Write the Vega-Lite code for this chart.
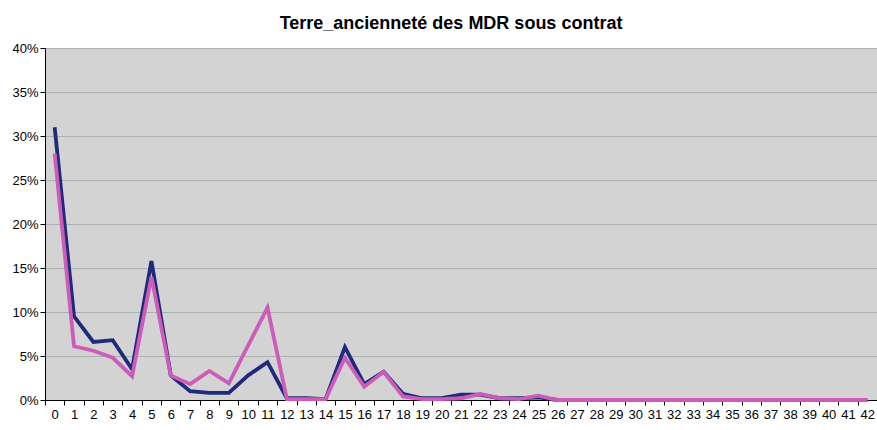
{
  "$schema": "https://vega.github.io/schema/vega-lite/v6.json",
  "width": 832,
  "height": 352,
  "autosize": "none",
  "padding": {"left": 45, "top": 48, "right": 0, "bottom": 30},
  "background": "white",
  "title": {
    "text": "Terre_ancienneté des MDR sous contrat",
    "font": "Liberation Sans",
    "fontSize": 18,
    "fontWeight": "bold",
    "color": "#000000",
    "anchor": "middle",
    "offset": 9,
    "dx": -10
  },
  "config": {
    "view": {"fill": "#d3d3d3", "stroke": null},
    "axis": {"labelFont": "Liberation Sans", "labelFontSize": 13, "labelColor": "#000000"}
  },
  "datasets": {
    "rows": [
      {"annee": 0, "serie": "Série 1", "part": 0.310},
      {"annee": 1, "serie": "Série 1", "part": 0.095},
      {"annee": 2, "serie": "Série 1", "part": 0.066},
      {"annee": 3, "serie": "Série 1", "part": 0.068},
      {"annee": 4, "serie": "Série 1", "part": 0.035},
      {"annee": 5, "serie": "Série 1", "part": 0.158},
      {"annee": 6, "serie": "Série 1", "part": 0.028},
      {"annee": 7, "serie": "Série 1", "part": 0.010},
      {"annee": 8, "serie": "Série 1", "part": 0.008},
      {"annee": 9, "serie": "Série 1", "part": 0.008},
      {"annee": 10, "serie": "Série 1", "part": 0.028},
      {"annee": 11, "serie": "Série 1", "part": 0.043},
      {"annee": 12, "serie": "Série 1", "part": 0.002},
      {"annee": 13, "serie": "Série 1", "part": 0.002},
      {"annee": 14, "serie": "Série 1", "part": 0.001},
      {"annee": 15, "serie": "Série 1", "part": 0.060},
      {"annee": 16, "serie": "Série 1", "part": 0.018},
      {"annee": 17, "serie": "Série 1", "part": 0.032},
      {"annee": 18, "serie": "Série 1", "part": 0.007},
      {"annee": 19, "serie": "Série 1", "part": 0.002},
      {"annee": 20, "serie": "Série 1", "part": 0.002},
      {"annee": 21, "serie": "Série 1", "part": 0.006},
      {"annee": 22, "serie": "Série 1", "part": 0.006},
      {"annee": 23, "serie": "Série 1", "part": 0.002},
      {"annee": 24, "serie": "Série 1", "part": 0.002},
      {"annee": 25, "serie": "Série 1", "part": 0.003},
      {"annee": 26, "serie": "Série 1", "part": 0},
      {"annee": 27, "serie": "Série 1", "part": 0},
      {"annee": 28, "serie": "Série 1", "part": 0},
      {"annee": 29, "serie": "Série 1", "part": 0},
      {"annee": 30, "serie": "Série 1", "part": 0},
      {"annee": 31, "serie": "Série 1", "part": 0},
      {"annee": 32, "serie": "Série 1", "part": 0},
      {"annee": 33, "serie": "Série 1", "part": 0},
      {"annee": 34, "serie": "Série 1", "part": 0},
      {"annee": 35, "serie": "Série 1", "part": 0},
      {"annee": 36, "serie": "Série 1", "part": 0},
      {"annee": 37, "serie": "Série 1", "part": 0},
      {"annee": 38, "serie": "Série 1", "part": 0},
      {"annee": 39, "serie": "Série 1", "part": 0},
      {"annee": 40, "serie": "Série 1", "part": 0},
      {"annee": 41, "serie": "Série 1", "part": 0},
      {"annee": 42, "serie": "Série 1", "part": 0},
      {"annee": 0, "serie": "Série 2", "part": 0.280},
      {"annee": 1, "serie": "Série 2", "part": 0.061},
      {"annee": 2, "serie": "Série 2", "part": 0.056},
      {"annee": 3, "serie": "Série 2", "part": 0.048},
      {"annee": 4, "serie": "Série 2", "part": 0.027},
      {"annee": 5, "serie": "Série 2", "part": 0.140},
      {"annee": 6, "serie": "Série 2", "part": 0.028},
      {"annee": 7, "serie": "Série 2", "part": 0.018},
      {"annee": 8, "serie": "Série 2", "part": 0.033},
      {"annee": 9, "serie": "Série 2", "part": 0.019},
      {"annee": 10, "serie": "Série 2", "part": 0.062},
      {"annee": 11, "serie": "Série 2", "part": 0.105},
      {"annee": 12, "serie": "Série 2", "part": 0.001},
      {"annee": 13, "serie": "Série 2", "part": 0.001},
      {"annee": 14, "serie": "Série 2", "part": 0.001},
      {"annee": 15, "serie": "Série 2", "part": 0.048},
      {"annee": 16, "serie": "Série 2", "part": 0.015},
      {"annee": 17, "serie": "Série 2", "part": 0.032},
      {"annee": 18, "serie": "Série 2", "part": 0.004},
      {"annee": 19, "serie": "Série 2", "part": 0.001},
      {"annee": 20, "serie": "Série 2", "part": 0.001},
      {"annee": 21, "serie": "Série 2", "part": 0.002},
      {"annee": 22, "serie": "Série 2", "part": 0.007},
      {"annee": 23, "serie": "Série 2", "part": 0.002},
      {"annee": 24, "serie": "Série 2", "part": 0.001},
      {"annee": 25, "serie": "Série 2", "part": 0.005},
      {"annee": 26, "serie": "Série 2", "part": 0},
      {"annee": 27, "serie": "Série 2", "part": 0},
      {"annee": 28, "serie": "Série 2", "part": 0},
      {"annee": 29, "serie": "Série 2", "part": 0},
      {"annee": 30, "serie": "Série 2", "part": 0},
      {"annee": 31, "serie": "Série 2", "part": 0},
      {"annee": 32, "serie": "Série 2", "part": 0},
      {"annee": 33, "serie": "Série 2", "part": 0},
      {"annee": 34, "serie": "Série 2", "part": 0},
      {"annee": 35, "serie": "Série 2", "part": 0},
      {"annee": 36, "serie": "Série 2", "part": 0},
      {"annee": 37, "serie": "Série 2", "part": 0},
      {"annee": 38, "serie": "Série 2", "part": 0},
      {"annee": 39, "serie": "Série 2", "part": 0},
      {"annee": 40, "serie": "Série 2", "part": 0},
      {"annee": 41, "serie": "Série 2", "part": 0},
      {"annee": 42, "serie": "Série 2", "part": 0}
    ]
  },
  "data": {"name": "rows"},
  "mark": {"type": "line", "strokeWidth": 3.8, "strokeJoin": "miter"},
  "encoding": {
    "x": {
      "field": "annee",
      "type": "ordinal",
      "sort": "ascending",
      "scale": {"paddingInner": 0, "paddingOuter": 0},
      "axis": {
        "title": null,
        "labelAngle": 0,
        "tickBand": "extent",
        "domainColor": "#000000",
        "tickColor": "#000000",
        "tickSize": 5,
        "labelPadding": 3,
        "grid": false
      }
    },
    "y": {
      "field": "part",
      "type": "quantitative",
      "scale": {"domain": [0, 0.4], "nice": false},
      "axis": {
        "title": null,
        "format": ".0%",
        "values": [0, 0.05, 0.1, 0.15, 0.2, 0.25, 0.3, 0.35, 0.4],
        "gridColor": "#a8b0b0",
        "gridWidth": 1,
        "domainColor": "#000000",
        "tickColor": "#000000",
        "tickSize": 5,
        "labelPadding": 2
      }
    },
    "color": {
      "field": "serie",
      "type": "nominal",
      "scale": {"domain": ["Série 1", "Série 2"], "range": ["#1f2a7c", "#cc5cb8"]},
      "legend": null
    },
    "order": {"field": "serie", "sort": "descending"}
  }
}
